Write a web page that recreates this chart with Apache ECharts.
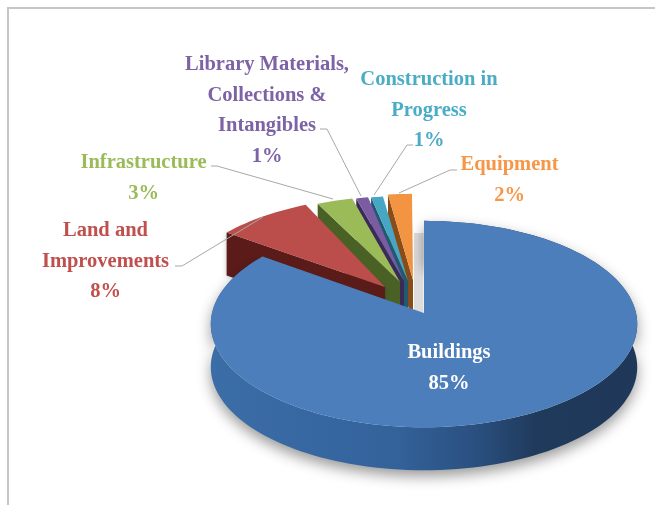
<!DOCTYPE html>
<html>
<head>
<meta charset="utf-8">
<style>html,body{margin:0;padding:0;background:#fff}#c{width:655px;height:505px}</style>
<script src="https://cdn.jsdelivr.net/npm/echarts@6/dist/echarts.min.js"></script>
</head>
<body>
<div id="c"></div>
<script>
// Data
var categories = ['Buildings', 'Land and\nImprovements', 'Infrastructure', 'Library Materials,\nCollections &\nIntangibles', 'Construction in\nProgress', 'Equipment'];
var shares = [85, 8, 3, 1, 1, 2];

// Styles
var topColors = ['#4b7eba', '#bb4d4a', '#9bbb59', '#7b5ca3', '#46a6c4', '#f29442'];
var wallColors = ['#2f5a8f', '#5b1b19', '#4a6126', '#3a2a58', '#1f5a72', '#8a4c16'];
var labelColors = ['#ffffff', '#c0504d', '#9bbb59', '#7d63a6', '#4bacc6', '#f79646'];

// Layout
var explode = [[0, 0], [-36, -24], [-24, -25], [-20, -25], [-17, -25], [-12, -27]];
var apexShift = [[0, 0], [-3, -2], [0, -6], [0, -7], [1, -7], [1, -6]];
var labelAnchors = [[449, 338], [105.5, 216], [143.5, 148], [267, 50], [429, 65], [509.5, 150]];
var leaders = [
  null,
  [[175, 266], [182, 266], [263, 217]],
  [[211, 166], [217, 166], [333, 199]],
  [[320, 129], [327, 129], [361, 196]],
  [[413, 145], [407, 145], [374, 195]],
  [[457, 170], [450, 170], [399, 193]]
];
var CX = 424, CY = 313, RX = 212, RY = 102, PERSP = 0.107, DEPTH = 43, LINE_H = 30.4;

function project(deg, r) {
  var a = deg * Math.PI / 180, X = r * Math.sin(a), Y = r * Math.cos(a), s = 1 / (1 + PERSP * Y);
  return [CX + RX * X * s, CY - RY * Y * s];
}
function rim(a0, a1, dx, dy) {
  var pts = [], n = Math.max(2, Math.ceil((a1 - a0) / 2));
  for (var i = 0; i <= n; i++) {
    var p = project(a0 + (a1 - a0) * i / n, 1);
    pts.push([p[0] + dx, p[1] + dy]);
  }
  return pts;
}

var total = shares.reduce(function (a, b) { return a + b; }, 0);
var starts = [], acc = 0;
shares.forEach(function (v) { starts.push(acc / total * 360); acc += v; });

function renderItem(params, api) {
  var i = params.dataIndex, v = api.value(0);
  var a0 = starts[i], a1 = a0 + v / total * 360;
  var dx = explode[i][0], dy = explode[i][1];
  var order = (6 - i) * 10;
  var top = rim(a0, a1, dx, dy);
  var apex = [CX + dx + apexShift[i][0], CY + dy + apexShift[i][1]];
  var kids = [];
  if (i === 0) {
    var low = top.map(function (p) { return [p[0], p[1] + DEPTH]; }).reverse();
    kids.push({
      type: 'polygon', z2: order,
      shape: { points: top.concat(low) },
      style: {
        fill: new echarts.graphic.LinearGradient(0, 0, 1, 0, [
          { offset: 0, color: '#3b6da6' }, { offset: 0.42, color: '#34639c' },
          { offset: 0.62, color: '#2a5080' }, { offset: 0.76, color: '#203a5c' },
          { offset: 1, color: '#1f3859' }
        ]),
        shadowBlur: 14, shadowColor: 'rgba(0,0,0,0.4)', shadowOffsetY: 6
      }
    });
    // soft shadow seen through the gap between the wedges
    kids.push({
      type: 'polygon', z2: order - 30,
      shape: { points: [[414, 233], [423.5, 233], [423.5, 313], [414, 310]] },
      style: { fill: '#dcdcdc' }
    });
  } else {
    // the wall on the cut face at the wedge's start angle
    var c = top[0];
    kids.push({
      type: 'polygon', z2: order,
      shape: { points: [c, apex, [apex[0], apex[1] + DEPTH], [c[0], c[1] + DEPTH]] },
      style: { fill: wallColors[i], shadowBlur: i === 1 ? 5 : 0, shadowColor: 'rgba(0,0,0,0.25)' }
    });
  }
  kids.push({
    type: 'polygon', z2: order + 1,
    shape: { points: top.concat([apex]) },
    style: { fill: topColors[i] }
  });
  if (leaders[i]) {
    kids.push({
      type: 'polyline', z2: 100,
      shape: { points: leaders[i] },
      style: { fill: null, stroke: '#a8a8a8', lineWidth: 1 }
    });
  }
  kids.push({
    type: 'text', z2: 200,
    style: {
      x: labelAnchors[i][0], y: labelAnchors[i][1],
      text: categories[i] + '\n' + v + '%',
      fill: labelColors[i], align: 'center', verticalAlign: 'top',
      fontFamily: '"Liberation Serif", serif', fontWeight: 'bold', fontSize: 20.5, lineHeight: LINE_H
    }
  });
  return { type: 'group', children: kids };
}

var chart = echarts.init(document.getElementById('c'), null, { renderer: 'canvas' });
chart.setOption({
  animation: false,
  backgroundColor: '#ffffff',
  graphic: [
    { type: 'polyline', silent: true, shape: { points: [[8, 505], [8, 8], [655, 8]] }, style: { fill: null, stroke: '#c6c6c6', lineWidth: 2 } }
  ],
  series: [{
    type: 'custom',
    coordinateSystem: 'none',
    silent: true,
    renderItem: renderItem,
    data: shares.map(function (v) { return [v]; })
  }]
});
</script>
</body>
</html>
